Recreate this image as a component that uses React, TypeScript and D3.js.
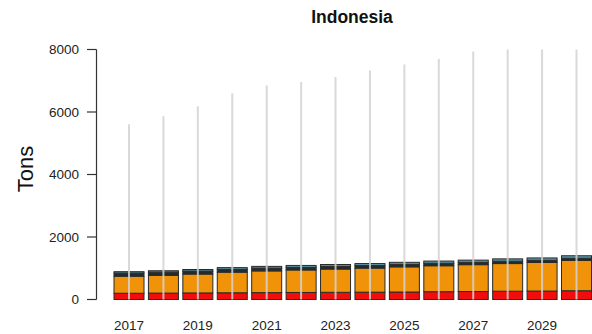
import React from "react";
import * as d3 from "d3";

const years = [2017, 2018, 2019, 2020, 2021, 2022, 2023, 2024, 2025, 2026, 2027, 2028, 2029, 2030];
const redVals = [200, 205, 210, 215, 220, 225, 230, 235, 240, 250, 255, 265, 270, 280];
const orangeVals = [545, 570, 605, 660, 695, 720, 745, 770, 805, 830, 860, 885, 915, 970];
const darkVals = [100, 100, 95, 90, 90, 85, 85, 80, 80, 80, 75, 75, 70, 70];
const tealVals = [45, 45, 50, 55, 55, 60, 60, 65, 65, 70, 70, 75, 75, 80];
const upperVals = [5610, 5865, 6180, 6600, 6850, 6960, 7120, 7330, 7520, 7700, 7935, 8000, 8000, 8000];
const yTicks = [0, 2000, 4000, 6000, 8000];
const xTickYears = [2017, 2019, 2021, 2023, 2025, 2027, 2029];

const seriesKeys = ["red", "orange", "dark", "teal"];
const seriesColors: Record<string, string> = {
  red: "#f20d0d",
  orange: "#f09309",
  dark: "#1f2b30",
  teal: "#5b98a6",
};

export default function App() {
  const W = 592;
  const H = 334;
  const font = "'Liberation Sans', Arial, Helvetica, sans-serif";

  const y = d3.scaleLinear().domain([0, 8000]).range([299.5, 49.5]);
  const xc = d3.scaleLinear().domain([2017, 2030]).range([129, 576.5]);
  const bw = 30;

  const rows = years.map((yr, i) => ({
    year: yr,
    red: redVals[i],
    orange: orangeVals[i],
    dark: darkVals[i],
    teal: tealVals[i],
  }));
  const stacked = d3.stack<any>().keys(seriesKeys)(rows);

  return (
    <div style={{ position: "fixed", left: 0, top: 0, width: W, height: H, overflow: "hidden" }}>
      <svg width={W} height={H} style={{ display: "block", background: "#fff" }} fontFamily={font}>
        <text x={352} y={23} textAnchor="middle" fontSize={17.5} fontWeight="bold" fill="#111">
          Indonesia
        </text>
        <text
          transform={`translate(32.5,169) rotate(-90)`}
          textAnchor="middle"
          fontSize={22}
          fill="#111"
        >
          Tons
        </text>
        {/* y axis */}
        <line x1={96.5} x2={96.5} y1={y(0)} y2={y(8000)} stroke="#333" strokeWidth={1.2} />
        {yTicks.map((t) => (
          <g key={t}>
            <line x1={87} x2={96.5} y1={y(t)} y2={y(t)} stroke="#333" strokeWidth={1.2} />
            <text x={79} y={y(t)} dy="0.36em" textAnchor="end" fontSize={13.5} fill="#222">
              {t}
            </text>
          </g>
        ))}
        {/* bars */}
        {stacked.map((s) => (
          <g key={s.key}>
            {s.map((d: any, i: number) => (
              <rect
                key={i}
                x={xc(years[i]) - bw / 2}
                y={y(d[1])}
                width={bw}
                height={y(d[0]) - y(d[1])}
                fill={seriesColors[s.key]}
                stroke="#2a2a2a"
                strokeWidth={1}
              />
            ))}
          </g>
        ))}
        {/* range lines */}
        {years.map((yr, i) => (
          <line
            key={yr}
            x1={xc(yr)}
            x2={xc(yr)}
            y1={y(0)}
            y2={y(upperVals[i])}
            stroke="#d2d2d2"
            strokeOpacity={0.85}
            strokeWidth={2}
          />
        ))}
        {/* x labels */}
        {xTickYears.map((yr) => (
          <text key={yr} x={xc(yr)} y={330} textAnchor="middle" fontSize={13.5} fill="#222">
            {yr}
          </text>
        ))}
      </svg>
    </div>
  );
}
